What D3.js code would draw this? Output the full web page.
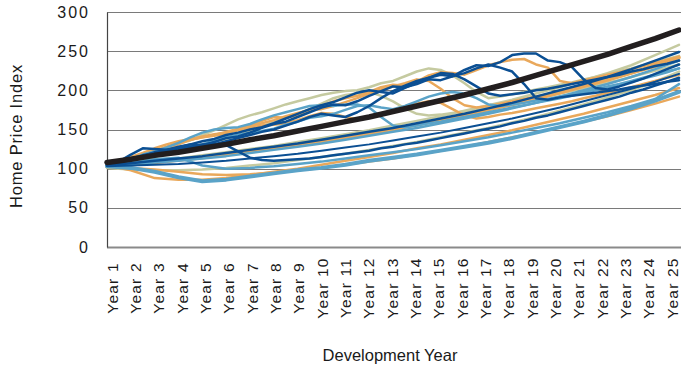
<!DOCTYPE html>
<html>
<head>
<meta charset="utf-8">
<script src="https://cdn.jsdelivr.net/npm/d3@7"></script>
<style>
  html, body { margin: 0; padding: 0; background: #fff; }
  svg { display: block; }
  text { font-family: "Liberation Sans", Arial, Helvetica, sans-serif; fill: #1a1a1a; }
</style>
</head>
<body>
<svg id="chart" width="681" height="366"></svg>
<script>
// Development years on the horizontal axis
const years = d3.range(1, 26).map(n => "Year " + n);
const yTicks = [0, 50, 100, 150, 200, 250, 300];

// Baseline projection (heavy black line), one value per year
const baseline = [108,112,117,121,126,131,137,142,148,154,160,166,173,180,187,194,202,210,219,228,237,246,256,266,277];

// Volatile paths, one value every half year (Year 1, 1.5, 2, ... 25)
const pathDB1 = [105,109,118,126,125,124,128,131,130,134,139,141,146,152,157,160,166,172,178,182,181,186,193,199,205,204,208,214,213,218,226,232,231,236,245,247,247,238,236,230,214,203,201,205,210,215,221,227,233];
const pathDB2 = [106,108,113,117,120,124,127,131,135,138,143,146,150,153,158,164,170,176,181,185,191,197,200,198,196,203,210,216,220,218,222,228,233,229,224,208,190,188,191,193,195,197,199,201,204,206,208,211,213];
const pathDB3 = [105,108,112,116,121,124,126,128,131,132,130,122,114,111,110,111,112,113,115,117,119,121,123,126,128,131,133,136,139,142,145,148,151,154,158,161,165,168,172,176,180,184,188,192,197,201,206,211,216];
const pathDB4 = [104,107,111,116,120,123,125,127,128,131,135,139,143,147,150,155,160,166,170,168,166,172,180,190,199,206,212,216,222,221,214,205,196,193,195,197,200,202,205,208,211,214,217,220,224,227,231,234,238];
const pathOR1 = [104,108,114,119,123,128,133,137,140,142,145,150,155,161,166,165,168,174,180,186,190,193,198,204,207,206,211,219,223,222,220,226,232,236,239,240,233,229,212,209,213,216,220,223,227,231,235,239,243];
const pathOR2 = [103,107,112,118,122,126,131,137,140,143,147,151,154,158,162,167,171,175,176,180,185,190,196,201,205,209,214,212,202,190,181,178,180,183,186,189,192,195,199,202,206,210,214,218,222,226,230,234,238];
const pathOR6 = [104,109,115,120,126,131,135,138,141,144,146,149,152,155,156,158,162,167,171,170,166,163,165,170,175,179,183,186,184,176,168,164,166,169,171,174,177,180,183,186,190,193,197,200,204,208,212,216,220];
const pathKH1 = [102,105,110,116,121,127,132,136,143,149,156,163,168,172,177,182,186,190,194,197,199,200,204,209,212,218,224,228,226,219,209,198,190,192,195,198,201,204,207,210,214,217,221,225,228,232,236,240,244];
const pathKH2 = [102,104,107,111,115,120,124,128,131,135,138,143,148,154,160,165,170,176,183,190,194,196,198,193,186,177,170,168,169,171,173,176,179,181,184,187,190,193,196,199,203,206,210,213,217,221,225,229,233];
const pathLB1 = [104,107,112,118,122,127,133,140,146,150,152,153,157,163,168,172,176,180,181,180,182,182,178,166,155,153,155,158,160,163,166,169,172,175,178,181,184,187,190,193,197,200,204,207,211,215,219,223,228];
const pathLB2 = [104,106,110,114,117,121,124,127,131,136,140,143,146,148,151,156,160,165,167,170,175,180,181,178,176,180,186,192,196,198,196,190,182,180,182,184,187,189,192,195,198,201,205,208,212,216,220,224,228];

// Steadier paths, one value per year
const pathDB5 = [104,107,110,113,116,120,124,128,132,137,142,147,152,158,164,170,177,184,192,200,208,217,227,238,249];
const pathDB6 = [103,104,105,106,108,110,113,116,119,123,127,131,136,141,146,152,158,164,171,178,186,194,202,211,221];
const pathOR3 = [103,105,108,111,114,118,122,126,130,135,140,145,150,156,162,168,175,182,189,197,205,213,222,232,242];
const pathOR4 = [104,98,88,86,86,88,92,96,100,105,110,115,120,126,131,137,143,149,156,163,170,178,186,194,203];
const pathOR5 = [102,101,99,96,93,92,93,95,98,101,105,109,113,118,123,128,134,140,146,153,160,167,175,183,192];
const pathLB3 = [104,106,108,110,113,116,120,124,128,132,137,142,147,152,158,164,170,177,184,192,200,208,217,227,238];
const pathLB4 = [103,101,96,89,84,86,90,94,98,101,105,110,114,118,123,128,133,139,146,153,160,168,177,187,198];
const pathLB5 = [104,108,112,114,104,100,101,103,106,109,113,117,121,125,130,135,140,146,152,158,165,172,180,189,208];
const pathKH3 = [103,106,109,113,117,121,125,129,134,139,144,149,155,161,167,174,181,188,196,204,213,222,232,245,258];
const pathKH4 = [101,99,98,98,99,101,104,107,111,115,119,124,129,134,140,146,152,159,166,174,182,191,200,211,224];

const DB = "#0b4f93", LB = "#5aa3c8", OR = "#e9a85b", KH = "#c5caa0";

// Paint order: back to front; step = years between successive values
const series = [
  { values: pathKH4, step: 1, color: KH, width: 2.5 },
  { values: pathKH3, step: 1, color: KH, width: 2.5 },
  { values: pathKH2, step: 0.5, color: KH, width: 2.5 },
  { values: pathKH1, step: 0.5, color: KH, width: 2.5 },
  { values: pathOR5, step: 1, color: OR, width: 2.5 },
  { values: pathOR4, step: 1, color: OR, width: 2.5 },
  { values: pathOR3, step: 1, color: OR, width: 3.5 },
  { values: pathOR6, step: 0.5, color: OR, width: 2.5 },
  { values: pathOR2, step: 0.5, color: OR, width: 2.5 },
  { values: pathOR1, step: 0.5, color: OR, width: 2.5 },
  { values: pathLB5, step: 1, color: LB, width: 2.5 },
  { values: pathLB4, step: 1, color: LB, width: 4 },
  { values: pathLB3, step: 1, color: LB, width: 2.5 },
  { values: pathLB2, step: 0.5, color: LB, width: 2.5 },
  { values: pathLB1, step: 0.5, color: LB, width: 2.5 },
  { values: pathDB6, step: 1, color: DB, width: 2 },
  { values: pathDB5, step: 1, color: DB, width: 2.5 },
  { values: pathDB3, step: 0.5, color: DB, width: 2.5 },
  { values: pathDB4, step: 0.5, color: DB, width: 2.5 },
  { values: pathDB2, step: 0.5, color: DB, width: 2.5 },
  { values: pathDB1, step: 0.5, color: DB, width: 2.5 },
  { values: baseline, step: 1, color: "#221e1f", width: 5.5 }
];

const svg = d3.select("#chart");
const plotLeft = 107, plotRight = 679, plotTop = 12, plotBottom = 247;

const x = d3.scaleLinear().domain([1, 25]).range([plotLeft, plotRight]);
const xLabel = d3.scalePoint().domain(years).range([112, 672]);
const y = d3.scaleLinear().domain([0, 300]).range([plotBottom, plotTop]);

// Horizontal gridlines
svg.append("g")
  .selectAll("line")
  .data(yTicks)
  .join("line")
  .attr("x1", plotLeft).attr("x2", 681)
  .attr("y1", d => Math.round(y(d)) + 0.5).attr("y2", d => Math.round(y(d)) + 0.5)
  .attr("stroke", d => d === 0 ? "#8a8a8a" : "#7a7a7a")
  .attr("stroke-width", d => d === 0 ? 2 : 1.2);

// Left axis with value labels
const yAxis = svg.append("g")
  .attr("transform", `translate(${plotLeft},0)`)
  .call(d3.axisLeft(y).tickValues(yTicks).tickSize(0).tickPadding(17));
yAxis.select(".domain").attr("stroke", "#444").attr("stroke-width", 1.2);
yAxis.selectAll("text")
  .style("font-size", "16px")
  .style("letter-spacing", "2px")
  .attr("fill", "#1a1a1a");

// Year labels, set vertically
const xAxis = svg.append("g")
  .attr("transform", `translate(0,${plotBottom})`)
  .call(d3.axisBottom(xLabel).tickSize(0));
xAxis.select(".domain").remove();
xAxis.selectAll(".tick").attr("transform", null);
xAxis.selectAll("text")
  .attr("transform", d => `translate(${xLabel(d)},41) rotate(-90)`)
  .attr("x", 0).attr("y", 0).attr("dy", "0.36em")
  .attr("text-anchor", "middle")
  .style("font-size", "15.5px")
  .style("letter-spacing", "1.2px")
  .attr("fill", "#1a1a1a");

// Price paths
const line = d3.line()
  .x(d => x(d.t))
  .y(d => y(d.v));

svg.append("g")
  .attr("fill", "none")
  .attr("stroke-linejoin", "round")
  .attr("stroke-linecap", "round")
  .selectAll("path")
  .data(series)
  .join("path")
  .attr("d", s => line(s.values.map((v, i) => ({ t: 1 + i * s.step, v }))))
  .attr("stroke", s => s.color)
  .attr("stroke-width", s => s.width);

// Axis titles
svg.append("text")
  .attr("transform", "translate(22,136) rotate(-90)")
  .attr("text-anchor", "middle")
  .style("font-size", "16.5px")
  .style("letter-spacing", "0.8px")
  .text("Home Price Index");

svg.append("text")
  .attr("x", 390).attr("y", 361)
  .attr("text-anchor", "middle")
  .style("font-size", "16.5px")
  .text("Development Year");
</script>
</body>
</html>
